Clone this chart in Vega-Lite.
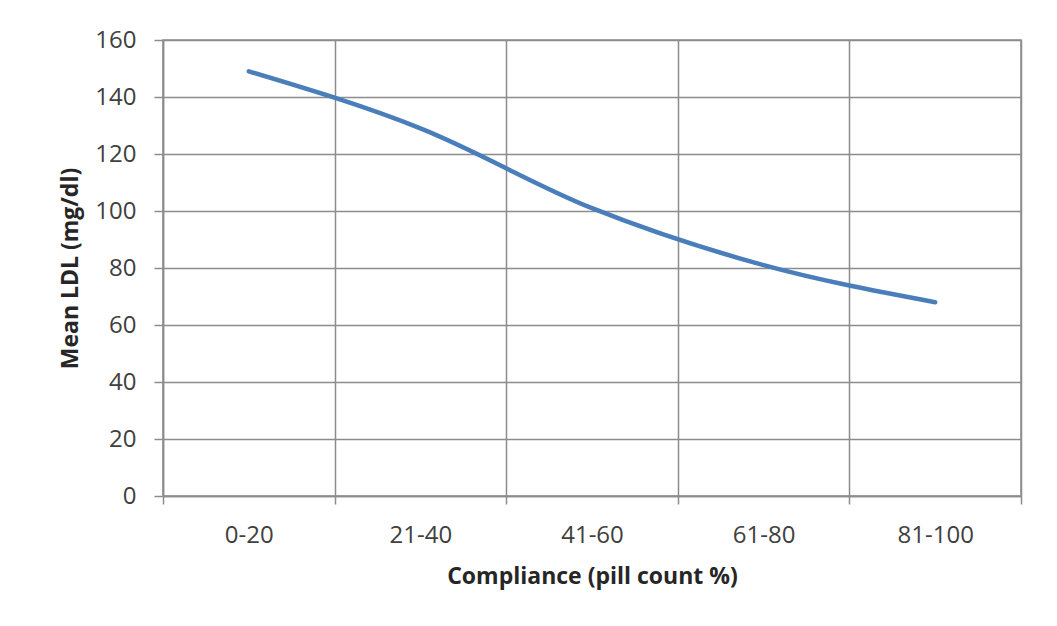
{
  "$schema": "https://vega.github.io/schema/vega-lite/v6.json",
  "autosize": {"type": "none"},
  "width": 858,
  "height": 456,
  "padding": {"left": 163, "top": 40, "right": 36, "bottom": 130},
  "background": "white",
  "config": {
    "view": {"stroke": "#8c8c8c", "strokeWidth": 1.5},
    "font": "Open Sans"
  },
  "data": {
    "values": [
      {"compliance": "0-20", "ldl": 149},
      {"compliance": "21-40", "ldl": 129},
      {"compliance": "41-60", "ldl": 101},
      {"compliance": "61-80", "ldl": 81},
      {"compliance": "81-100", "ldl": 68}
    ]
  },
  "mark": {"type": "line", "interpolate": "monotone", "color": "#4a7ebb", "strokeWidth": 4.5, "strokeCap": "round"},
  "encoding": {
    "x": {
      "field": "compliance",
      "type": "ordinal",
      "sort": null,
      "bandPosition": 0.5,
      "scale": {"type": "band", "paddingInner": 0, "paddingOuter": 0},
      "axis": {
        "title": "Compliance (pill count %)",
        "titleFontSize": 23,
        "titleFontWeight": "bold",
        "titleColor": "#262626",
        "titlePadding": 18,
        "labelAngle": 0,
        "labelFontSize": 24,
        "labelColor": "#404040",
        "labelPadding": 19,
        "tickBand": "extent",
        "tickSize": 8,
        "tickColor": "#8c8c8c",
        "tickWidth": 1.5,
        "domainColor": "#8c8c8c",
        "domainWidth": 1.5,
        "grid": true,
        "gridColor": "#8c8c8c",
        "gridWidth": 1.5
      }
    },
    "y": {
      "field": "ldl",
      "type": "quantitative",
      "scale": {"domain": [0, 160], "nice": false},
      "axis": {
        "title": "Mean LDL (mg/dl)",
        "titleFontSize": 23,
        "titleFontWeight": "bold",
        "titleColor": "#262626",
        "titlePadding": 12,
        "values": [0, 20, 40, 60, 80, 100, 120, 140, 160],
        "labelFontSize": 24,
        "labelColor": "#404040",
        "labelPadding": 18,
        "tickSize": 9,
        "tickColor": "#8c8c8c",
        "tickWidth": 1.5,
        "domainColor": "#8c8c8c",
        "domainWidth": 1.5,
        "grid": true,
        "gridColor": "#8c8c8c",
        "gridWidth": 1.5
      }
    }
  }
}
